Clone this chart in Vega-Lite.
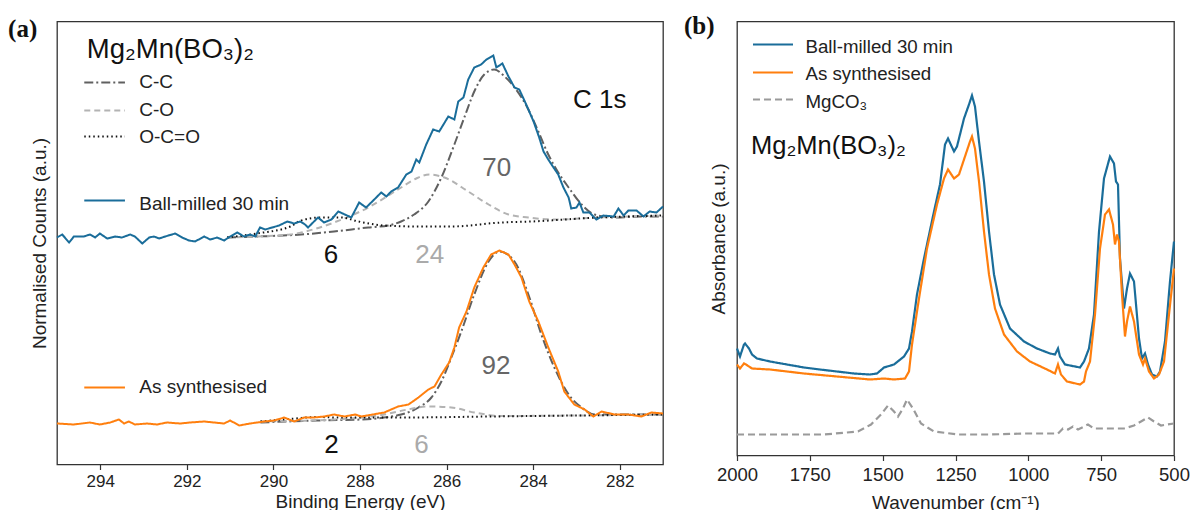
{
"$schema": "https://vega.github.io/schema/vega-lite/v6.json",
"padding": {"left": 7, "top": 12.5, "right": 5, "bottom": 0},
"spacing": 15,
"resolve": {"scale": {"color": "independent", "strokeDash": "independent", "strokeWidth": "independent"}},
"config": {
 "font": "Liberation Sans",
 "view": {"stroke": "#333", "strokeWidth": 1.3},
 "axis": {"grid": false, "domain": false, "labelFlush": false, "tickColor": "#333", "tickSize": 5, "tickWidth": 1.2, "labelColor": "#222", "titleColor": "#222", "titleFont": "Liberation Sans", "labelFont": "Liberation Sans", "titleFontWeight": "normal", "titleFontSize": 19, "labelFontSize": 17}
},
"datasets": {
"xps": [
{"energy":295.00,"counts":227,"series":"Ball-milled 30 min","sample":"bm"},
{"energy":294.88,"counts":230,"series":"Ball-milled 30 min","sample":"bm"},
{"energy":294.72,"counts":222,"series":"Ball-milled 30 min","sample":"bm"},
{"energy":294.61,"counts":228,"series":"Ball-milled 30 min","sample":"bm"},
{"energy":294.38,"counts":228,"series":"Ball-milled 30 min","sample":"bm"},
{"energy":294.24,"counts":230,"series":"Ball-milled 30 min","sample":"bm"},
{"energy":294.12,"counts":227,"series":"Ball-milled 30 min","sample":"bm"},
{"energy":294.01,"counts":231,"series":"Ball-milled 30 min","sample":"bm"},
{"energy":293.84,"counts":226,"series":"Ball-milled 30 min","sample":"bm"},
{"energy":293.66,"counts":228,"series":"Ball-milled 30 min","sample":"bm"},
{"energy":293.50,"counts":227,"series":"Ball-milled 30 min","sample":"bm"},
{"energy":293.31,"counts":230,"series":"Ball-milled 30 min","sample":"bm"},
{"energy":293.20,"counts":228,"series":"Ball-milled 30 min","sample":"bm"},
{"energy":293.03,"counts":221,"series":"Ball-milled 30 min","sample":"bm"},
{"energy":292.87,"counts":227,"series":"Ball-milled 30 min","sample":"bm"},
{"energy":292.76,"counts":228,"series":"Ball-milled 30 min","sample":"bm"},
{"energy":292.64,"counts":226,"series":"Ball-milled 30 min","sample":"bm"},
{"energy":292.50,"counts":228,"series":"Ball-milled 30 min","sample":"bm"},
{"energy":292.27,"counts":231,"series":"Ball-milled 30 min","sample":"bm"},
{"energy":292.11,"counts":227,"series":"Ball-milled 30 min","sample":"bm"},
{"energy":291.95,"counts":224,"series":"Ball-milled 30 min","sample":"bm"},
{"energy":291.81,"counts":223,"series":"Ball-milled 30 min","sample":"bm"},
{"energy":291.60,"counts":228,"series":"Ball-milled 30 min","sample":"bm"},
{"energy":291.46,"counts":225,"series":"Ball-milled 30 min","sample":"bm"},
{"energy":291.30,"counts":227,"series":"Ball-milled 30 min","sample":"bm"},
{"energy":291.14,"counts":224,"series":"Ball-milled 30 min","sample":"bm"},
{"energy":291.00,"counts":228,"series":"Ball-milled 30 min","sample":"bm"},
{"energy":290.84,"counts":232,"series":"Ball-milled 30 min","sample":"bm"},
{"energy":290.68,"counts":228,"series":"Ball-milled 30 min","sample":"bm"},
{"energy":290.54,"counts":230,"series":"Ball-milled 30 min","sample":"bm"},
{"energy":290.42,"counts":228,"series":"Ball-milled 30 min","sample":"bm"},
{"energy":290.31,"counts":237,"series":"Ball-milled 30 min","sample":"bm"},
{"energy":290.19,"counts":235,"series":"Ball-milled 30 min","sample":"bm"},
{"energy":290.03,"counts":237,"series":"Ball-milled 30 min","sample":"bm"},
{"energy":289.87,"counts":239,"series":"Ball-milled 30 min","sample":"bm"},
{"energy":289.68,"counts":243,"series":"Ball-milled 30 min","sample":"bm"},
{"energy":289.52,"counts":241,"series":"Ball-milled 30 min","sample":"bm"},
{"energy":289.38,"counts":243,"series":"Ball-milled 30 min","sample":"bm"},
{"energy":289.27,"counts":240,"series":"Ball-milled 30 min","sample":"bm"},
{"energy":289.20,"counts":237,"series":"Ball-milled 30 min","sample":"bm"},
{"energy":288.97,"counts":247,"series":"Ball-milled 30 min","sample":"bm"},
{"energy":288.83,"counts":242,"series":"Ball-milled 30 min","sample":"bm"},
{"energy":288.66,"counts":245,"series":"Ball-milled 30 min","sample":"bm"},
{"energy":288.50,"counts":253,"series":"Ball-milled 30 min","sample":"bm"},
{"energy":288.20,"counts":247,"series":"Ball-milled 30 min","sample":"bm"},
{"energy":288.02,"counts":262,"series":"Ball-milled 30 min","sample":"bm"},
{"energy":287.86,"counts":257,"series":"Ball-milled 30 min","sample":"bm"},
{"energy":287.67,"counts":265,"series":"Ball-milled 30 min","sample":"bm"},
{"energy":287.51,"counts":272,"series":"Ball-milled 30 min","sample":"bm"},
{"energy":287.39,"counts":268,"series":"Ball-milled 30 min","sample":"bm"},
{"energy":287.28,"counts":273,"series":"Ball-milled 30 min","sample":"bm"},
{"energy":287.12,"counts":277,"series":"Ball-milled 30 min","sample":"bm"},
{"energy":286.93,"counts":290,"series":"Ball-milled 30 min","sample":"bm"},
{"energy":286.81,"counts":293,"series":"Ball-milled 30 min","sample":"bm"},
{"energy":286.70,"counts":305,"series":"Ball-milled 30 min","sample":"bm"},
{"energy":286.63,"counts":302,"series":"Ball-milled 30 min","sample":"bm"},
{"energy":286.47,"counts":320,"series":"Ball-milled 30 min","sample":"bm"},
{"energy":286.31,"counts":335,"series":"Ball-milled 30 min","sample":"bm"},
{"energy":286.17,"counts":333,"series":"Ball-milled 30 min","sample":"bm"},
{"energy":285.96,"counts":348,"series":"Ball-milled 30 min","sample":"bm"},
{"energy":285.82,"counts":345,"series":"Ball-milled 30 min","sample":"bm"},
{"energy":285.73,"counts":363,"series":"Ball-milled 30 min","sample":"bm"},
{"energy":285.61,"counts":367,"series":"Ball-milled 30 min","sample":"bm"},
{"energy":285.50,"counts":385,"series":"Ball-milled 30 min","sample":"bm"},
{"energy":285.36,"counts":397,"series":"Ball-milled 30 min","sample":"bm"},
{"energy":285.20,"counts":400,"series":"Ball-milled 30 min","sample":"bm"},
{"energy":285.08,"counts":405,"series":"Ball-milled 30 min","sample":"bm"},
{"energy":284.92,"counts":409,"series":"Ball-milled 30 min","sample":"bm"},
{"energy":284.85,"counts":397,"series":"Ball-milled 30 min","sample":"bm"},
{"energy":284.71,"counts":401,"series":"Ball-milled 30 min","sample":"bm"},
{"energy":284.57,"counts":388,"series":"Ball-milled 30 min","sample":"bm"},
{"energy":284.43,"counts":377,"series":"Ball-milled 30 min","sample":"bm"},
{"energy":284.32,"counts":375,"series":"Ball-milled 30 min","sample":"bm"},
{"energy":284.16,"counts":360,"series":"Ball-milled 30 min","sample":"bm"},
{"energy":283.99,"counts":343,"series":"Ball-milled 30 min","sample":"bm"},
{"energy":283.86,"counts":327,"series":"Ball-milled 30 min","sample":"bm"},
{"energy":283.76,"counts":313,"series":"Ball-milled 30 min","sample":"bm"},
{"energy":283.65,"counts":305,"series":"Ball-milled 30 min","sample":"bm"},
{"energy":283.53,"counts":297,"series":"Ball-milled 30 min","sample":"bm"},
{"energy":283.42,"counts":290,"series":"Ball-milled 30 min","sample":"bm"},
{"energy":283.30,"counts":277,"series":"Ball-milled 30 min","sample":"bm"},
{"energy":283.18,"counts":267,"series":"Ball-milled 30 min","sample":"bm"},
{"energy":283.12,"counts":256,"series":"Ball-milled 30 min","sample":"bm"},
{"energy":283.00,"counts":257,"series":"Ball-milled 30 min","sample":"bm"},
{"energy":282.93,"counts":262,"series":"Ball-milled 30 min","sample":"bm"},
{"energy":282.84,"counts":252,"series":"Ball-milled 30 min","sample":"bm"},
{"energy":282.70,"counts":252,"series":"Ball-milled 30 min","sample":"bm"},
{"energy":282.54,"counts":245,"series":"Ball-milled 30 min","sample":"bm"},
{"energy":282.38,"counts":249,"series":"Ball-milled 30 min","sample":"bm"},
{"energy":282.14,"counts":248,"series":"Ball-milled 30 min","sample":"bm"},
{"energy":282.03,"counts":256,"series":"Ball-milled 30 min","sample":"bm"},
{"energy":281.91,"counts":249,"series":"Ball-milled 30 min","sample":"bm"},
{"energy":281.80,"counts":254,"series":"Ball-milled 30 min","sample":"bm"},
{"energy":281.61,"counts":254,"series":"Ball-milled 30 min","sample":"bm"},
{"energy":281.45,"counts":248,"series":"Ball-milled 30 min","sample":"bm"},
{"energy":281.31,"counts":253,"series":"Ball-milled 30 min","sample":"bm"},
{"energy":281.15,"counts":252,"series":"Ball-milled 30 min","sample":"bm"},
{"energy":281.00,"counts":258,"series":"Ball-milled 30 min","sample":"bm"},
{"energy":291.07,"counts":227,"series":"C-C","sample":"bm"},
{"energy":290.38,"counts":228,"series":"C-C","sample":"bm"},
{"energy":289.36,"counts":230,"series":"C-C","sample":"bm"},
{"energy":288.60,"counts":233,"series":"C-C","sample":"bm"},
{"energy":287.81,"counts":237,"series":"C-C","sample":"bm"},
{"energy":287.35,"counts":239,"series":"C-C","sample":"bm"},
{"energy":287.05,"counts":243,"series":"C-C","sample":"bm"},
{"energy":286.75,"counts":250,"series":"C-C","sample":"bm"},
{"energy":286.42,"counts":263,"series":"C-C","sample":"bm"},
{"energy":286.12,"counts":287,"series":"C-C","sample":"bm"},
{"energy":285.82,"counts":320,"series":"C-C","sample":"bm"},
{"energy":285.59,"counts":347,"series":"C-C","sample":"bm"},
{"energy":285.36,"counts":373,"series":"C-C","sample":"bm"},
{"energy":285.13,"counts":390,"series":"C-C","sample":"bm"},
{"energy":284.90,"counts":395,"series":"C-C","sample":"bm"},
{"energy":284.66,"counts":388,"series":"C-C","sample":"bm"},
{"energy":284.43,"counts":377,"series":"C-C","sample":"bm"},
{"energy":284.11,"counts":355,"series":"C-C","sample":"bm"},
{"energy":283.88,"counts":333,"series":"C-C","sample":"bm"},
{"energy":283.65,"counts":310,"series":"C-C","sample":"bm"},
{"energy":283.42,"counts":292,"series":"C-C","sample":"bm"},
{"energy":283.18,"counts":277,"series":"C-C","sample":"bm"},
{"energy":282.88,"counts":260,"series":"C-C","sample":"bm"},
{"energy":282.58,"counts":250,"series":"C-C","sample":"bm"},
{"energy":282.12,"counts":247,"series":"C-C","sample":"bm"},
{"energy":281.50,"counts":248,"series":"C-C","sample":"bm"},
{"energy":281.00,"counts":248,"series":"C-C","sample":"bm"},
{"energy":291.07,"counts":227,"series":"C-O","sample":"bm"},
{"energy":290.38,"counts":228,"series":"C-O","sample":"bm"},
{"energy":289.61,"counts":230,"series":"C-O","sample":"bm"},
{"energy":289.36,"counts":232,"series":"C-O","sample":"bm"},
{"energy":288.60,"counts":242,"series":"C-O","sample":"bm"},
{"energy":287.81,"counts":257,"series":"C-O","sample":"bm"},
{"energy":287.05,"counts":277,"series":"C-O","sample":"bm"},
{"energy":286.70,"counts":286,"series":"C-O","sample":"bm"},
{"energy":286.40,"counts":290,"series":"C-O","sample":"bm"},
{"energy":286.05,"counts":287,"series":"C-O","sample":"bm"},
{"energy":285.50,"counts":273,"series":"C-O","sample":"bm"},
{"energy":285.03,"counts":260,"series":"C-O","sample":"bm"},
{"energy":284.57,"counts":250,"series":"C-O","sample":"bm"},
{"energy":284.11,"counts":247,"series":"C-O","sample":"bm"},
{"energy":283.50,"counts":245,"series":"C-O","sample":"bm"},
{"energy":282.50,"counts":247,"series":"C-O","sample":"bm"},
{"energy":281.00,"counts":249,"series":"C-O","sample":"bm"},
{"energy":291.07,"counts":227,"series":"O-C=O","sample":"bm"},
{"energy":290.38,"counts":231,"series":"O-C=O","sample":"bm"},
{"energy":289.61,"counts":238,"series":"O-C=O","sample":"bm"},
{"energy":289.36,"counts":244,"series":"O-C=O","sample":"bm"},
{"energy":288.90,"counts":247,"series":"O-C=O","sample":"bm"},
{"energy":288.43,"counts":247,"series":"O-C=O","sample":"bm"},
{"energy":288.04,"counts":243,"series":"O-C=O","sample":"bm"},
{"energy":287.44,"counts":239,"series":"O-C=O","sample":"bm"},
{"energy":286.65,"counts":238,"series":"O-C=O","sample":"bm"},
{"energy":285.89,"counts":238,"series":"O-C=O","sample":"bm"},
{"energy":284.73,"counts":242,"series":"O-C=O","sample":"bm"},
{"energy":284.04,"counts":243,"series":"O-C=O","sample":"bm"},
{"energy":282.49,"counts":247,"series":"O-C=O","sample":"bm"},
{"energy":281.00,"counts":249,"series":"O-C=O","sample":"bm"},
{"energy":295.00,"counts":41,"series":"As synthesised","sample":"as"},
{"energy":294.61,"counts":40,"series":"As synthesised","sample":"as"},
{"energy":294.24,"counts":42,"series":"As synthesised","sample":"as"},
{"energy":294.01,"counts":40,"series":"As synthesised","sample":"as"},
{"energy":293.77,"counts":42,"series":"As synthesised","sample":"as"},
{"energy":293.57,"counts":45,"series":"As synthesised","sample":"as"},
{"energy":293.45,"counts":41,"series":"As synthesised","sample":"as"},
{"energy":293.34,"counts":43,"series":"As synthesised","sample":"as"},
{"energy":293.20,"counts":40,"series":"As synthesised","sample":"as"},
{"energy":292.92,"counts":41,"series":"As synthesised","sample":"as"},
{"energy":292.69,"counts":40,"series":"As synthesised","sample":"as"},
{"energy":292.46,"counts":42,"series":"As synthesised","sample":"as"},
{"energy":292.16,"counts":41,"series":"As synthesised","sample":"as"},
{"energy":291.92,"counts":42,"series":"As synthesised","sample":"as"},
{"energy":291.60,"counts":43,"series":"As synthesised","sample":"as"},
{"energy":291.37,"counts":42,"series":"As synthesised","sample":"as"},
{"energy":291.14,"counts":41,"series":"As synthesised","sample":"as"},
{"energy":291.00,"counts":44,"series":"As synthesised","sample":"as"},
{"energy":290.79,"counts":39,"series":"As synthesised","sample":"as"},
{"energy":290.54,"counts":41,"series":"As synthesised","sample":"as"},
{"energy":290.21,"counts":43,"series":"As synthesised","sample":"as"},
{"energy":289.98,"counts":44,"series":"As synthesised","sample":"as"},
{"energy":289.75,"counts":47,"series":"As synthesised","sample":"as"},
{"energy":289.52,"counts":43,"series":"As synthesised","sample":"as"},
{"energy":289.29,"counts":47,"series":"As synthesised","sample":"as"},
{"energy":289.06,"counts":47,"series":"As synthesised","sample":"as"},
{"energy":288.83,"counts":48,"series":"As synthesised","sample":"as"},
{"energy":288.60,"counts":50,"series":"As synthesised","sample":"as"},
{"energy":288.36,"counts":48,"series":"As synthesised","sample":"as"},
{"energy":288.11,"counts":50,"series":"As synthesised","sample":"as"},
{"energy":287.97,"counts":48,"series":"As synthesised","sample":"as"},
{"energy":287.44,"counts":52,"series":"As synthesised","sample":"as"},
{"energy":287.12,"counts":58,"series":"As synthesised","sample":"as"},
{"energy":286.88,"counts":60,"series":"As synthesised","sample":"as"},
{"energy":286.65,"counts":67,"series":"As synthesised","sample":"as"},
{"energy":286.42,"counts":75,"series":"As synthesised","sample":"as"},
{"energy":286.28,"counts":78,"series":"As synthesised","sample":"as"},
{"energy":286.12,"counts":90,"series":"As synthesised","sample":"as"},
{"energy":285.94,"counts":102,"series":"As synthesised","sample":"as"},
{"energy":285.82,"counts":117,"series":"As synthesised","sample":"as"},
{"energy":285.71,"counts":137,"series":"As synthesised","sample":"as"},
{"energy":285.54,"counts":153,"series":"As synthesised","sample":"as"},
{"energy":285.36,"counts":177,"series":"As synthesised","sample":"as"},
{"energy":285.15,"counts":197,"series":"As synthesised","sample":"as"},
{"energy":284.97,"counts":210,"series":"As synthesised","sample":"as"},
{"energy":284.78,"counts":214,"series":"As synthesised","sample":"as"},
{"energy":284.57,"counts":210,"series":"As synthesised","sample":"as"},
{"energy":284.43,"counts":200,"series":"As synthesised","sample":"as"},
{"energy":284.27,"counts":187,"series":"As synthesised","sample":"as"},
{"energy":284.09,"counts":163,"series":"As synthesised","sample":"as"},
{"energy":283.88,"counts":143,"series":"As synthesised","sample":"as"},
{"energy":283.65,"counts":117,"series":"As synthesised","sample":"as"},
{"energy":283.42,"counts":93,"series":"As synthesised","sample":"as"},
{"energy":283.28,"counts":73,"series":"As synthesised","sample":"as"},
{"energy":283.05,"counts":60,"series":"As synthesised","sample":"as"},
{"energy":282.81,"counts":55,"series":"As synthesised","sample":"as"},
{"energy":282.61,"counts":48,"series":"As synthesised","sample":"as"},
{"energy":282.42,"counts":53,"series":"As synthesised","sample":"as"},
{"energy":282.12,"counts":50,"series":"As synthesised","sample":"as"},
{"energy":281.80,"counts":50,"series":"As synthesised","sample":"as"},
{"energy":281.50,"counts":48,"series":"As synthesised","sample":"as"},
{"energy":281.27,"counts":52,"series":"As synthesised","sample":"as"},
{"energy":281.00,"counts":51,"series":"As synthesised","sample":"as"},
{"energy":290.30,"counts":42,"series":"C-C","sample":"as"},
{"energy":289.00,"counts":44,"series":"C-C","sample":"as"},
{"energy":287.97,"counts":45,"series":"C-C","sample":"as"},
{"energy":287.05,"counts":50,"series":"C-C","sample":"as"},
{"energy":286.65,"counts":57,"series":"C-C","sample":"as"},
{"energy":286.35,"counts":67,"series":"C-C","sample":"as"},
{"energy":286.12,"counts":83,"series":"C-C","sample":"as"},
{"energy":285.89,"counts":107,"series":"C-C","sample":"as"},
{"energy":285.66,"counts":133,"series":"C-C","sample":"as"},
{"energy":285.36,"counts":170,"series":"C-C","sample":"as"},
{"energy":285.03,"counts":203,"series":"C-C","sample":"as"},
{"energy":284.78,"counts":213,"series":"C-C","sample":"as"},
{"energy":284.43,"counts":203,"series":"C-C","sample":"as"},
{"energy":284.11,"counts":170,"series":"C-C","sample":"as"},
{"energy":283.81,"counts":130,"series":"C-C","sample":"as"},
{"energy":283.51,"counts":97,"series":"C-C","sample":"as"},
{"energy":283.18,"counts":70,"series":"C-C","sample":"as"},
{"energy":282.88,"counts":57,"series":"C-C","sample":"as"},
{"energy":282.58,"counts":50,"series":"C-C","sample":"as"},
{"energy":281.96,"counts":50,"series":"C-C","sample":"as"},
{"energy":281.00,"counts":50,"series":"C-C","sample":"as"},
{"energy":290.30,"counts":43,"series":"C-O","sample":"as"},
{"energy":288.60,"counts":45,"series":"C-O","sample":"as"},
{"energy":287.44,"counts":50,"series":"C-O","sample":"as"},
{"energy":286.90,"counts":55,"series":"C-O","sample":"as"},
{"energy":286.42,"counts":58,"series":"C-O","sample":"as"},
{"energy":285.89,"counts":57,"series":"C-O","sample":"as"},
{"energy":285.36,"counts":52,"series":"C-O","sample":"as"},
{"energy":284.73,"counts":48.5,"series":"C-O","sample":"as"},
{"energy":283.00,"counts":49,"series":"C-O","sample":"as"},
{"energy":281.00,"counts":50,"series":"C-O","sample":"as"},
{"energy":290.30,"counts":43,"series":"O-C=O","sample":"as"},
{"energy":289.50,"counts":46,"series":"O-C=O","sample":"as"},
{"energy":289.00,"counts":47.5,"series":"O-C=O","sample":"as"},
{"energy":288.50,"counts":47,"series":"O-C=O","sample":"as"},
{"energy":287.00,"counts":47,"series":"O-C=O","sample":"as"},
{"energy":285.00,"counts":48,"series":"O-C=O","sample":"as"},
{"energy":283.00,"counts":49,"series":"O-C=O","sample":"as"},
{"energy":281.00,"counts":50,"series":"O-C=O","sample":"as"}
],
"xps_key": [
{"energy":294.37,"energy2":293.43,"counts":382,"series":"C-C"},
{"energy":294.37,"energy2":293.43,"counts":354,"series":"C-O"},
{"energy":294.37,"energy2":293.43,"counts":328,"series":"O-C=O"},
{"energy":294.37,"energy2":293.43,"counts":264,"series":"Ball-milled 30 min"},
{"energy":294.37,"energy2":293.43,"counts":77,"series":"As synthesised"}
],
"xps_text": [
{"energy":296.13,"counts":427.5,"label":"(a)","kind":"panel"},
{"energy":294.31,"counts":407,"label":"Mg₂Mn(BO₃)₂","kind":"formula"},
{"energy":293.10,"counts":377,"label":"C-C","kind":"key"},
{"energy":293.10,"counts":349,"label":"C-O","kind":"key"},
{"energy":293.10,"counts":322,"label":"O-C=O","kind":"key"},
{"energy":293.10,"counts":255,"label":"Ball-milled 30 min","kind":"key"},
{"energy":293.10,"counts":72,"label":"As synthesised","kind":"key"},
{"energy":288.67,"counts":202,"label":"6","kind":"black"},
{"energy":286.39,"counts":202,"label":"24","kind":"light"},
{"energy":284.84,"counts":289,"label":"70","kind":"dark"},
{"energy":282.46,"counts":357,"label":"C 1s","kind":"black"},
{"energy":284.86,"counts":91,"label":"92","kind":"dark"},
{"energy":288.66,"counts":12,"label":"2","kind":"black"},
{"energy":286.58,"counts":12,"label":"6","kind":"light"}
],
"ftir": [
{"wn":2000,"abs":107,"series":"Ball-milled 30 min"},
{"wn":1989.7,"abs":99,"series":"Ball-milled 30 min"},
{"wn":1976,"abs":111,"series":"Ball-milled 30 min"},
{"wn":1972.5,"abs":112,"series":"Ball-milled 30 min"},
{"wn":1958.8,"abs":107,"series":"Ball-milled 30 min"},
{"wn":1948.5,"abs":101,"series":"Ball-milled 30 min"},
{"wn":1931.4,"abs":97,"series":"Ball-milled 30 min"},
{"wn":1886.7,"abs":94,"series":"Ball-milled 30 min"},
{"wn":1828.4,"abs":91,"series":"Ball-milled 30 min"},
{"wn":1770,"abs":88,"series":"Ball-milled 30 min"},
{"wn":1715.1,"abs":86,"series":"Ball-milled 30 min"},
{"wn":1656.8,"abs":84,"series":"Ball-milled 30 min"},
{"wn":1598.4,"abs":82,"series":"Ball-milled 30 min"},
{"wn":1543.5,"abs":81,"series":"Ball-milled 30 min"},
{"wn":1519.5,"abs":82,"series":"Ball-milled 30 min"},
{"wn":1495.4,"abs":88,"series":"Ball-milled 30 min"},
{"wn":1461.1,"abs":91,"series":"Ball-milled 30 min"},
{"wn":1426.8,"abs":99,"series":"Ball-milled 30 min"},
{"wn":1409.6,"abs":107,"series":"Ball-milled 30 min"},
{"wn":1399.3,"abs":124,"series":"Ball-milled 30 min"},
{"wn":1382.2,"abs":161,"series":"Ball-milled 30 min"},
{"wn":1358.1,"abs":197,"series":"Ball-milled 30 min"},
{"wn":1323.8,"abs":244,"series":"Ball-milled 30 min"},
{"wn":1303.2,"abs":271,"series":"Ball-milled 30 min"},
{"wn":1286.0,"abs":311,"series":"Ball-milled 30 min"},
{"wn":1275.7,"abs":317,"series":"Ball-milled 30 min"},
{"wn":1255.1,"abs":304,"series":"Ball-milled 30 min"},
{"wn":1244.9,"abs":309,"series":"Ball-milled 30 min"},
{"wn":1220.8,"abs":337,"series":"Ball-milled 30 min"},
{"wn":1203.7,"abs":351,"series":"Ball-milled 30 min"},
{"wn":1193.4,"abs":360,"series":"Ball-milled 30 min"},
{"wn":1183.1,"abs":349,"series":"Ball-milled 30 min"},
{"wn":1169.3,"abs":314,"series":"Ball-milled 30 min"},
{"wn":1152.2,"abs":274,"series":"Ball-milled 30 min"},
{"wn":1135.0,"abs":224,"series":"Ball-milled 30 min"},
{"wn":1117.8,"abs":181,"series":"Ball-milled 30 min"},
{"wn":1097.3,"abs":151,"series":"Ball-milled 30 min"},
{"wn":1062.9,"abs":127,"series":"Ball-milled 30 min"},
{"wn":1014.9,"abs":114,"series":"Ball-milled 30 min"},
{"wn":970.3,"abs":107,"series":"Ball-milled 30 min"},
{"wn":925.6,"abs":102,"series":"Ball-milled 30 min"},
{"wn":908.5,"abs":101,"series":"Ball-milled 30 min"},
{"wn":898.2,"abs":107,"series":"Ball-milled 30 min"},
{"wn":891.3,"abs":99,"series":"Ball-milled 30 min"},
{"wn":874.1,"abs":91,"series":"Ball-milled 30 min"},
{"wn":822.6,"abs":88,"series":"Ball-milled 30 min"},
{"wn":808.9,"abs":94,"series":"Ball-milled 30 min"},
{"wn":791.8,"abs":107,"series":"Ball-milled 30 min"},
{"wn":774.6,"abs":141,"series":"Ball-milled 30 min"},
{"wn":757.4,"abs":224,"series":"Ball-milled 30 min"},
{"wn":740.3,"abs":277,"series":"Ball-milled 30 min"},
{"wn":719.7,"abs":299,"series":"Ball-milled 30 min"},
{"wn":706.0,"abs":292,"series":"Ball-milled 30 min"},
{"wn":699.1,"abs":274,"series":"Ball-milled 30 min"},
{"wn":692.2,"abs":271,"series":"Ball-milled 30 min"},
{"wn":685.4,"abs":197,"series":"Ball-milled 30 min"},
{"wn":671.6,"abs":147,"series":"Ball-milled 30 min"},
{"wn":661.3,"abs":167,"series":"Ball-milled 30 min"},
{"wn":651.0,"abs":182,"series":"Ball-milled 30 min"},
{"wn":637.3,"abs":174,"series":"Ball-milled 30 min"},
{"wn":620.1,"abs":117,"series":"Ball-milled 30 min"},
{"wn":609.8,"abs":97,"series":"Ball-milled 30 min"},
{"wn":599.5,"abs":102,"series":"Ball-milled 30 min"},
{"wn":589.2,"abs":91,"series":"Ball-milled 30 min"},
{"wn":575.5,"abs":81,"series":"Ball-milled 30 min"},
{"wn":558.4,"abs":79,"series":"Ball-milled 30 min"},
{"wn":548.1,"abs":84,"series":"Ball-milled 30 min"},
{"wn":530.9,"abs":114,"series":"Ball-milled 30 min"},
{"wn":513.8,"abs":174,"series":"Ball-milled 30 min"},
{"wn":500,"abs":214,"series":"Ball-milled 30 min"},
{"wn":2000,"abs":91,"series":"As synthesised"},
{"wn":1989.7,"abs":87,"series":"As synthesised"},
{"wn":1976,"abs":92,"series":"As synthesised"},
{"wn":1969.1,"abs":91,"series":"As synthesised"},
{"wn":1948.5,"abs":87,"series":"As synthesised"},
{"wn":1886.7,"abs":86,"series":"As synthesised"},
{"wn":1770,"abs":82,"series":"As synthesised"},
{"wn":1656.8,"abs":79,"series":"As synthesised"},
{"wn":1543.5,"abs":76,"series":"As synthesised"},
{"wn":1495.4,"abs":77,"series":"As synthesised"},
{"wn":1461.1,"abs":76,"series":"As synthesised"},
{"wn":1423.3,"abs":77,"series":"As synthesised"},
{"wn":1409.6,"abs":84,"series":"As synthesised"},
{"wn":1399.3,"abs":111,"series":"As synthesised"},
{"wn":1375.3,"abs":157,"series":"As synthesised"},
{"wn":1347.8,"abs":207,"series":"As synthesised"},
{"wn":1313.5,"abs":251,"series":"As synthesised"},
{"wn":1289.5,"abs":277,"series":"As synthesised"},
{"wn":1275.7,"abs":286,"series":"As synthesised"},
{"wn":1255.1,"abs":277,"series":"As synthesised"},
{"wn":1238.0,"abs":281,"series":"As synthesised"},
{"wn":1217.4,"abs":299,"series":"As synthesised"},
{"wn":1200.2,"abs":314,"series":"As synthesised"},
{"wn":1193.4,"abs":319,"series":"As synthesised"},
{"wn":1183.1,"abs":307,"series":"As synthesised"},
{"wn":1169.3,"abs":274,"series":"As synthesised"},
{"wn":1152.2,"abs":224,"series":"As synthesised"},
{"wn":1135.0,"abs":181,"series":"As synthesised"},
{"wn":1114.4,"abs":147,"series":"As synthesised"},
{"wn":1083.5,"abs":121,"series":"As synthesised"},
{"wn":1038.9,"abs":104,"series":"As synthesised"},
{"wn":994.3,"abs":94,"series":"As synthesised"},
{"wn":935.9,"abs":86,"series":"As synthesised"},
{"wn":908.5,"abs":82,"series":"As synthesised"},
{"wn":898.2,"abs":91,"series":"As synthesised"},
{"wn":887.9,"abs":81,"series":"As synthesised"},
{"wn":867.3,"abs":74,"series":"As synthesised"},
{"wn":822.6,"abs":71,"series":"As synthesised"},
{"wn":808.9,"abs":74,"series":"As synthesised"},
{"wn":802.1,"abs":84,"series":"As synthesised"},
{"wn":788.3,"abs":94,"series":"As synthesised"},
{"wn":771.2,"abs":141,"series":"As synthesised"},
{"wn":754.0,"abs":207,"series":"As synthesised"},
{"wn":736.8,"abs":241,"series":"As synthesised"},
{"wn":723.1,"abs":246,"series":"As synthesised"},
{"wn":709.4,"abs":231,"series":"As synthesised"},
{"wn":702.5,"abs":211,"series":"As synthesised"},
{"wn":695.7,"abs":221,"series":"As synthesised"},
{"wn":688.8,"abs":214,"series":"As synthesised"},
{"wn":678.5,"abs":161,"series":"As synthesised"},
{"wn":668.2,"abs":119,"series":"As synthesised"},
{"wn":661.3,"abs":134,"series":"As synthesised"},
{"wn":651.0,"abs":149,"series":"As synthesised"},
{"wn":637.3,"abs":134,"series":"As synthesised"},
{"wn":620.1,"abs":101,"series":"As synthesised"},
{"wn":606.4,"abs":91,"series":"As synthesised"},
{"wn":599.5,"abs":97,"series":"As synthesised"},
{"wn":585.8,"abs":84,"series":"As synthesised"},
{"wn":568.6,"abs":77,"series":"As synthesised"},
{"wn":551.5,"abs":81,"series":"As synthesised"},
{"wn":534.3,"abs":94,"series":"As synthesised"},
{"wn":517.2,"abs":141,"series":"As synthesised"},
{"wn":500,"abs":187,"series":"As synthesised"},
{"wn":2000,"abs":21,"series":"MgCO₃"},
{"wn":1814.6,"abs":21,"series":"MgCO₃"},
{"wn":1701.4,"abs":21,"series":"MgCO₃"},
{"wn":1584.7,"abs":24,"series":"MgCO₃"},
{"wn":1540.0,"abs":31,"series":"MgCO₃"},
{"wn":1505.7,"abs":41,"series":"MgCO₃"},
{"wn":1481.7,"abs":50,"series":"MgCO₃"},
{"wn":1461.1,"abs":44,"series":"MgCO₃"},
{"wn":1447.4,"abs":39,"series":"MgCO₃"},
{"wn":1430.2,"abs":47,"series":"MgCO₃"},
{"wn":1416.5,"abs":56,"series":"MgCO₃"},
{"wn":1395.9,"abs":47,"series":"MgCO₃"},
{"wn":1368.4,"abs":32,"series":"MgCO₃"},
{"wn":1323.8,"abs":24,"series":"MgCO₃"},
{"wn":1241.4,"abs":21,"series":"MgCO₃"},
{"wn":1128.1,"abs":21,"series":"MgCO₃"},
{"wn":1014.9,"abs":22,"series":"MgCO₃"},
{"wn":898.2,"abs":22,"series":"MgCO₃"},
{"wn":881.0,"abs":27,"series":"MgCO₃"},
{"wn":863.8,"abs":26,"series":"MgCO₃"},
{"wn":846.7,"abs":29,"series":"MgCO₃"},
{"wn":829.5,"abs":26,"series":"MgCO₃"},
{"wn":795.2,"abs":31,"series":"MgCO₃"},
{"wn":774.6,"abs":27,"series":"MgCO₃"},
{"wn":740.3,"abs":27,"series":"MgCO₃"},
{"wn":671.6,"abs":27,"series":"MgCO₃"},
{"wn":637.3,"abs":30,"series":"MgCO₃"},
{"wn":613.3,"abs":34,"series":"MgCO₃"},
{"wn":589.2,"abs":38,"series":"MgCO₃"},
{"wn":568.6,"abs":34,"series":"MgCO₃"},
{"wn":544.6,"abs":30,"series":"MgCO₃"},
{"wn":500,"abs":32,"series":"MgCO₃"}
],
"ftir_key": [
{"wn":1945.1,"wn2":1807.8,"abs":411,"series":"Ball-milled 30 min"},
{"wn":1945.1,"wn2":1807.8,"abs":383,"series":"As synthesised"},
{"wn":1945.1,"wn2":1807.8,"abs":356,"series":"MgCO₃"}
],
"ftir_text": [
{"wn":2181.9,"abs":421.5,"label":"(b)","kind":"panel"},
{"wn":1764.9,"abs":403,"label":"Ball-milled 30 min","kind":"key"},
{"wn":1764.9,"abs":376,"label":"As synthesised","kind":"key"},
{"wn":1764.9,"abs":348,"label":"MgCO₃","kind":"key"},
{"wn":1951.9,"abs":302,"label":"Mg₂Mn(BO₃)₂","kind":"formula"}
]
},
"hconcat": [
{
 "width": 606, "height": 443,
 "encoding": {
  "x": {"field": "energy", "type": "quantitative", "scale": {"domain": [281, 295], "reverse": true, "nice": false, "zero": false}, "axis": {"values": [282, 284, 286, 288, 290, 292, 294], "format": "d", "title": "Binding Energy (eV)", "labelPadding": 4, "titlePadding": 3}},
  "y": {"field": "counts", "type": "quantitative", "scale": {"domain": [0, 443], "nice": false, "zero": false}, "axis": {"title": "Normalised Counts (a.u.)", "ticks": false, "labels": false, "titlePadding": 8}}
 },
 "layer": [
  {"data": {"name": "xps"}, "transform": [{"filter": "datum.series === 'C-C' || datum.series === 'C-O' || datum.series === 'O-C=O'"}],
   "mark": {"type": "line", "interpolate": "monotone"},
   "encoding": {
    "color": {"field": "series", "type": "nominal", "scale": {"domain": ["Ball-milled 30 min", "As synthesised", "C-C", "C-O", "O-C=O"], "range": ["#1a6d9a", "#ff7f0e", "#606060", "#b3b3b3", "#111111"]}, "legend": null},
    "strokeDash": {"field": "series", "type": "nominal", "scale": {"domain": ["Ball-milled 30 min", "As synthesised", "C-C", "C-O", "O-C=O"], "range": [[1, 0], [1, 0], [9, 3, 2, 3], [6, 4], [1.5, 3]]}, "legend": null},
    "strokeWidth": {"field": "series", "type": "ordinal", "scale": {"domain": ["Ball-milled 30 min", "As synthesised", "C-C", "C-O", "O-C=O"], "range": [2, 2, 1.7, 1.7, 1.8]}, "legend": null},
    "detail": {"field": "sample", "type": "nominal"}
   }},
  {"data": {"name": "xps"}, "transform": [{"filter": "datum.series === 'Ball-milled 30 min' || datum.series === 'As synthesised'"}],
   "mark": {"type": "line"},
   "encoding": {
    "color": {"field": "series", "type": "nominal", "scale": {"domain": ["Ball-milled 30 min", "As synthesised", "C-C", "C-O", "O-C=O"], "range": ["#1a6d9a", "#ff7f0e", "#606060", "#b3b3b3", "#111111"]}, "legend": null},
    "strokeDash": {"field": "series", "type": "nominal", "scale": {"domain": ["Ball-milled 30 min", "As synthesised", "C-C", "C-O", "O-C=O"], "range": [[1, 0], [1, 0], [9, 3, 2, 3], [6, 4], [1.5, 3]]}, "legend": null},
    "strokeWidth": {"field": "series", "type": "ordinal", "scale": {"domain": ["Ball-milled 30 min", "As synthesised", "C-C", "C-O", "O-C=O"], "range": [2, 2, 1.7, 1.7, 1.8]}, "legend": null},
    "detail": {"field": "sample", "type": "nominal"}
   }},
  {"data": {"name": "xps_key"}, "mark": {"type": "rule"},
   "encoding": {
    "x2": {"field": "energy2"},
    "color": {"field": "series", "type": "nominal", "scale": {"domain": ["Ball-milled 30 min", "As synthesised", "C-C", "C-O", "O-C=O"], "range": ["#1a6d9a", "#ff7f0e", "#606060", "#b3b3b3", "#111111"]}, "legend": null},
    "strokeDash": {"field": "series", "type": "nominal", "scale": {"domain": ["Ball-milled 30 min", "As synthesised", "C-C", "C-O", "O-C=O"], "range": [[1, 0], [1, 0], [9, 3, 2, 3], [6, 4], [1.5, 3]]}, "legend": null},
    "strokeWidth": {"field": "series", "type": "ordinal", "scale": {"domain": ["Ball-milled 30 min", "As synthesised", "C-C", "C-O", "O-C=O"], "range": [2, 2, 1.7, 1.7, 1.8]}, "legend": null}
   }},
  {"data": {"name": "xps_text"}, "transform": [{"filter": "datum.kind === 'panel'"}],
   "mark": {"type": "text", "align": "left", "baseline": "alphabetic", "font": "Liberation Serif", "fontWeight": "bold", "fontSize": 25, "color": "#111"},
   "encoding": {"text": {"field": "label"}}},
  {"data": {"name": "xps_text"}, "transform": [{"filter": "datum.kind === 'formula'"}],
   "mark": {"type": "text", "align": "left", "baseline": "alphabetic", "fontSize": 27.5, "color": "#111"},
   "encoding": {"text": {"field": "label"}}},
  {"data": {"name": "xps_text"}, "transform": [{"filter": "datum.kind === 'key'"}],
   "mark": {"type": "text", "align": "left", "baseline": "alphabetic", "fontSize": 19, "color": "#222"},
   "encoding": {"text": {"field": "label"}}},
  {"data": {"name": "xps_text"}, "transform": [{"filter": "datum.kind === 'black'"}],
   "mark": {"type": "text", "align": "center", "baseline": "alphabetic", "fontSize": 26, "color": "#111"},
   "encoding": {"text": {"field": "label"}}},
  {"data": {"name": "xps_text"}, "transform": [{"filter": "datum.kind === 'light'"}],
   "mark": {"type": "text", "align": "center", "baseline": "alphabetic", "fontSize": 26, "color": "#aaaaaa"},
   "encoding": {"text": {"field": "label"}}},
  {"data": {"name": "xps_text"}, "transform": [{"filter": "datum.kind === 'dark'"}],
   "mark": {"type": "text", "align": "center", "baseline": "alphabetic", "fontSize": 26, "color": "#666666"},
   "encoding": {"text": {"field": "label"}}}
 ]
},
{
 "width": 437, "height": 434,
 "encoding": {
  "x": {"field": "wn", "type": "quantitative", "scale": {"domain": [500, 2000], "reverse": true, "nice": false, "zero": false}, "axis": {"values": [500, 750, 1000, 1250, 1500, 1750, 2000], "format": "d", "title": "Wavenumber (cm⁻¹)", "labelFontSize": 18.5, "labelPadding": 5, "titlePadding": 9}},
  "y": {"field": "abs", "type": "quantitative", "scale": {"domain": [0, 434], "nice": false, "zero": false}, "axis": {"title": "Absorbance (a.u.)", "ticks": false, "labels": false, "titlePadding": 8.5}}
 },
 "layer": [
  {"data": {"name": "ftir"}, "mark": {"type": "line", "strokeWidth": 2.2},
   "encoding": {
    "color": {"field": "series", "type": "nominal", "scale": {"domain": ["Ball-milled 30 min", "As synthesised", "MgCO₃"], "range": ["#1a6d9a", "#ff7f0e", "#9a9a9a"]}, "legend": null},
    "strokeDash": {"field": "series", "type": "nominal", "scale": {"domain": ["Ball-milled 30 min", "As synthesised", "MgCO₃"], "range": [[1, 0], [1, 0], [7, 4]]}, "legend": null}
   }},
  {"data": {"name": "ftir_key"}, "mark": {"type": "rule", "strokeWidth": 2.2},
   "encoding": {
    "x2": {"field": "wn2"},
    "color": {"field": "series", "type": "nominal", "scale": {"domain": ["Ball-milled 30 min", "As synthesised", "MgCO₃"], "range": ["#1a6d9a", "#ff7f0e", "#9a9a9a"]}, "legend": null},
    "strokeDash": {"field": "series", "type": "nominal", "scale": {"domain": ["Ball-milled 30 min", "As synthesised", "MgCO₃"], "range": [[1, 0], [1, 0], [7, 4]]}, "legend": null}
   }},
  {"data": {"name": "ftir_text"}, "transform": [{"filter": "datum.kind === 'panel'"}],
   "mark": {"type": "text", "align": "left", "baseline": "alphabetic", "font": "Liberation Serif", "fontWeight": "bold", "fontSize": 25, "color": "#111"},
   "encoding": {"text": {"field": "label"}}},
  {"data": {"name": "ftir_text"}, "transform": [{"filter": "datum.kind === 'key'"}],
   "mark": {"type": "text", "align": "left", "baseline": "alphabetic", "fontSize": 18.7, "color": "#222"},
   "encoding": {"text": {"field": "label"}}},
  {"data": {"name": "ftir_text"}, "transform": [{"filter": "datum.kind === 'formula'"}],
   "mark": {"type": "text", "align": "left", "baseline": "alphabetic", "fontSize": 25.5, "color": "#111"},
   "encoding": {"text": {"field": "label"}}}
 ]
}
]
}
